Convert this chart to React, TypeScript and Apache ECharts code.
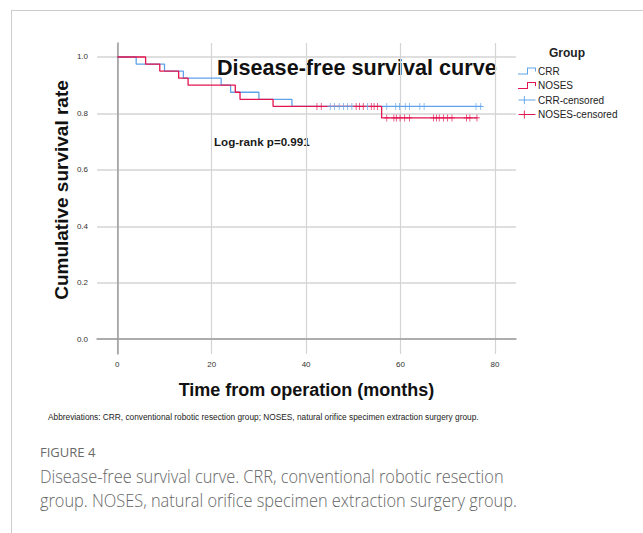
import React, { useEffect, useRef } from "react";
import * as echarts from "echarts";

// Kaplan–Meier step data (months, survival)
const crrTimes = [0, 4, 10, 14, 22, 24, 30, 37, 77.3];
const crrSurv = [1, 0.975, 0.95, 0.925, 0.9, 0.875, 0.85, 0.825, 0.825];
const nosesTimes = [0, 6, 9, 13, 15, 25, 26, 33, 56, 76.3];
const nosesSurv = [1, 0.975, 0.95, 0.925, 0.9, 0.875, 0.85, 0.825, 0.784, 0.784];

// censored observations
const crrCensTimes = [45.1, 46, 47, 47.9, 48.8, 49.7, 53, 57.1, 59, 59.8, 61, 61.9, 64.1, 65, 76, 77];
const crrCensLevel = 0.825;
const nosesCensUpperTimes = [42.3, 43.2, 50.6, 51.3, 52.1, 53.8, 54.4, 55.1];
const nosesCensUpperLevel = 0.825;
const nosesCensLowerTimes = [57.1, 58.6, 59.1, 59.9, 60.9, 61.9, 67, 67.6, 68.2, 69.1, 70, 70.9, 74, 74.7, 76.2];
const nosesCensLowerLevel = 0.784;

const xTicks = [0, 20, 40, 60, 80];
const yTicks = [0, 0.2, 0.4, 0.6, 0.8, 1.0];
const xRange = [-4.3, 84.47];
const yRange = [-0.0524, 1.0496];

const seriesNames = ["CRR", "NOSES", "CRR-censored", "NOSES-censored"];

const BLUE = "#5ea3ea";
const RED = "#e3154f";
const GRID = "#d4d4d4";
const FONT = "'Liberation Sans', Arial, sans-serif";

const stepIcon = "path://M0,7 L9,7 L9,1 L18,1 L18,5 L17,5 L17,2 L10,2 L10,8 L0,8 Z";
const censIcon = "path://M0,4 L19,4 L19,5 L0,5 Z M6,0 L7,0 L7,9 L6,9 Z";
const plusSymbol = "path://M4,0 L5,0 L5,4 L9,4 L9,5 L5,5 L5,9 L4,9 L4,5 L0,5 L0,4 L4,4 Z";

export default function App() {
  const ref = useRef<HTMLDivElement>(null);

  useEffect(() => {
    if (!ref.current) return;
    const chart = echarts.init(ref.current, null, { renderer: "svg" });

    const crrLine = crrTimes.map((t, i) => [t, crrSurv[i]]);
    const nosesLine = nosesTimes.map((t, i) => [t, nosesSurv[i]]);
    const crrCens = crrCensTimes.map((t) => [t, crrCensLevel]);
    const nosesCens = [
      ...nosesCensUpperTimes.map((t) => [t, nosesCensUpperLevel]),
      ...nosesCensLowerTimes.map((t) => [t, nosesCensLowerLevel]),
    ];

    const option: any = {
      animation: false,
      backgroundColor: "#ffffff",
      textStyle: { fontFamily: FONT },
      grid: { left: 97, right: 127, top: 43, bottom: 179, containLabel: false },
      xAxis: {
        type: "value",
        min: xRange[0],
        max: xRange[1],
        axisLine: { show: true, lineStyle: { color: "#9c9c9c", width: 1.5 } },
        axisTick: { show: false, customValues: xTicks },
        splitLine: { show: true, lineStyle: { color: GRID, width: 1.2 } },
        axisLabel: {
          customValues: xTicks,
          fontSize: 8,
          color: "#333",
          margin: 6,
          fontFamily: FONT,
        },
      },
      yAxis: {
        type: "value",
        min: yRange[0],
        max: yRange[1],
        axisLine: { show: true, lineStyle: { color: "#9c9c9c", width: 1.5 } },
        axisTick: { show: false, customValues: yTicks },
        splitLine: { show: true, lineStyle: { color: GRID, width: 1.5 } },
        axisLabel: {
          customValues: yTicks,
          formatter: (v: number) => v.toFixed(1),
          fontSize: 8,
          color: "#333",
          margin: 9,
          fontFamily: FONT,
        },
      },
      legend: {
        orient: "vertical",
        left: 518,
        top: 66,
        itemWidth: 18,
        itemHeight: 8,
        itemGap: 4.5,
        padding: 0,
        textStyle: { fontSize: 10, color: "#222", fontFamily: FONT, padding: [0, 0, 0, -3] },
        data: [
          { name: seriesNames[0], icon: stepIcon },
          { name: seriesNames[1], icon: stepIcon },
          { name: seriesNames[2], icon: censIcon },
          { name: seriesNames[3], icon: censIcon },
        ],
      },
      series: [
        {
          name: seriesNames[0],
          type: "line",
          step: "end",
          data: crrLine,
          showSymbol: false,
          symbol: "none",
          z: 2,
          itemStyle: { color: BLUE },
          lineStyle: { color: BLUE, width: 1.3 },
        },
        {
          name: seriesNames[1],
          type: "line",
          step: "end",
          data: nosesLine,
          showSymbol: false,
          symbol: "none",
          z: 3,
          itemStyle: { color: RED },
          lineStyle: { color: RED, width: 1.3 },
        },
        {
          name: seriesNames[2],
          type: "scatter",
          data: crrCens,
          symbol: plusSymbol,
          symbolSize: [6, 7],
          z: 4,
          itemStyle: { color: BLUE, opacity: 1 },
        },
        {
          name: seriesNames[3],
          type: "scatter",
          data: nosesCens,
          symbol: plusSymbol,
          symbolSize: [6, 7],
          z: 5,
          itemStyle: { color: RED, opacity: 1 },
        },
      ],
      graphic: [
        {
          type: "line",
          silent: true,
          shape: { x1: 11, y1: 10.5, x2: 643, y2: 10.5 },
          style: { stroke: "#cccccc", lineWidth: 1 },
        },
        {
          type: "line",
          silent: true,
          shape: { x1: 11.5, y1: 10, x2: 11.5, y2: 533 },
          style: { stroke: "#cccccc", lineWidth: 1 },
        },
        {
          type: "text",
          x: 217,
          y: 67,
          style: {
            text: "Disease-free survival curve",
            font: `bold 21.6px ${FONT}`,
            fill: "#111",
            verticalAlign: "middle",
          },
        },
        {
          type: "text",
          x: 214,
          y: 141,
          style: {
            text: "Log-rank p=0.991",
            font: `bold 11.6px ${FONT}`,
            fill: "#1a1a1a",
            verticalAlign: "middle",
          },
        },
        {
          type: "text",
          x: 567,
          y: 52.5,
          style: {
            text: "Group",
            font: `bold 12px ${FONT}`,
            fill: "#222",
            align: "center",
            verticalAlign: "middle",
          },
        },
        {
          type: "text",
          x: 61.5,
          y: 190,
          rotation: Math.PI / 2,
          style: {
            text: "Cumulative survival rate",
            font: `bold 19px ${FONT}`,
            fill: "#111",
            align: "center",
            verticalAlign: "middle",
          },
        },
        {
          type: "text",
          x: 306.5,
          y: 389.7,
          style: {
            text: "Time from operation (months)",
            font: `bold 18px ${FONT}`,
            fill: "#111",
            align: "center",
            verticalAlign: "middle",
          },
        },
        {
          type: "text",
          x: 48,
          y: 417,
          scaleX: 0.875,
          style: {
            text:
              "Abbreviations: CRR, conventional robotic resection group; NOSES, natural orifice specimen extraction surgery group.",
            font: `9.5px ${FONT}`,
            fill: "#222",
            verticalAlign: "middle",
          },
        },
        {
          type: "text",
          x: 40,
          y: 452,
          style: {
            text: "FIGURE 4",
            font: `13px 'Open Sans', sans-serif`,
            fill: "#6a6a6a",
            verticalAlign: "middle",
          },
        },
        {
          type: "text",
          x: 40,
          y: 476,
          scaleX: 0.91,
          style: {
            text: "Disease-free survival curve. CRR, conventional robotic resection",
            font: `300 18px 'Open Sans', sans-serif`,
            fill: "#666",
            verticalAlign: "middle",
          },
        },
        {
          type: "text",
          x: 40,
          y: 500.5,
          scaleX: 0.91,
          style: {
            text: "group. NOSES, natural orifice specimen extraction surgery group.",
            font: `300 18px 'Open Sans', sans-serif`,
            fill: "#666",
            verticalAlign: "middle",
          },
        },
      ],
    };

    chart.setOption(option);
    return () => chart.dispose();
  }, []);

  return (
    <div
      ref={ref}
      style={{ position: "fixed", left: 0, top: 0, width: 643, height: 533, background: "#fff" }}
    />
  );
}
